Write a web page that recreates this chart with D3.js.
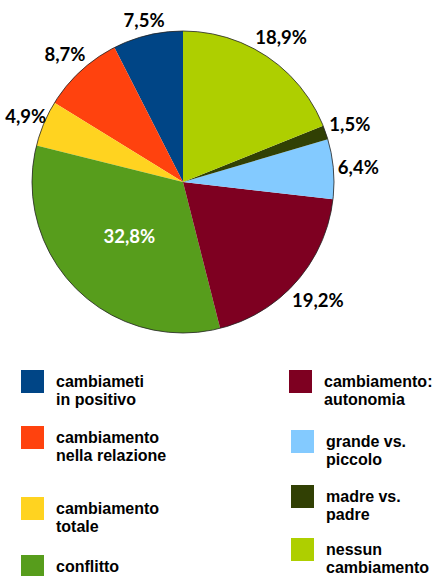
<!DOCTYPE html>
<html><head><meta charset="utf-8">
<script src="https://cdn.jsdelivr.net/npm/d3@7"></script>
<style>
html,body{margin:0;padding:0;background:#fff;}
svg text{font-family:Lato,"Open Sans",sans-serif;font-weight:700;fill:#000;}
svg text.leg{font-family:"Liberation Sans",Arial,sans-serif;}
</style></head>
<body><svg id="c" width="435" height="576"></svg>
<script>
const categories = ["cambiameti in positivo","cambiamento nella relazione","cambiamento totale","conflitto","cambiamento: autonomia","grande vs. piccolo","madre vs. padre","nessun cambiamento"];
const legendLines = [["cambiameti","in positivo"],["cambiamento","nella relazione"],["cambiamento","totale"],["conflitto"],["cambiamento:","autonomia"],["grande vs.","piccolo"],["madre vs.","padre"],["nessun","cambiamento"]];
const values = [7.5, 8.7, 4.9, 32.8, 19.2, 6.4, 1.5, 18.9];
const labels = ["7,5%","8,7%","4,9%","32,8%","19,2%","6,4%","1,5%","18,9%"];
const colors = ["#004586","#ff420e","#ffd320","#579d1c","#7e0021","#83caff","#314004","#aecf00"];

const svg = d3.select("#c");
const cx = 183, cy = 182, r = 151;
const color = d3.scaleOrdinal().domain(categories).range(colors);
const pie = d3.pie().sort(null).value(d => d.v).startAngle(0).endAngle(-2*Math.PI);
const data = categories.map((c,i)=>({c, v: values[i], l: labels[i]}));
const arcs = pie(data);
const arc = d3.arc().innerRadius(0).outerRadius(r);
const g = svg.append("g").attr("transform",`translate(${cx},${cy})`);
g.selectAll("path.s").data(arcs).join("path").attr("class","s")
  .attr("d", arc).attr("fill", d => color(d.data.c));
g.append("circle").attr("r", r).attr("fill","none").attr("stroke","#222").attr("stroke-width",0.8);

// labels
arcs.forEach(d => {
  const a = (d.startAngle + d.endAngle)/2;
  const t = g.append("text").text(d.data.l).attr("font-size",18.5)
    .attr("text-anchor","middle").attr("dominant-baseline","central");
  if (d.data.v > 25) {
    t.attr("fill","#fff").style("fill","#fff");
    const rr = 76;
    t.attr("x", Math.sin(a)*rr).attr("y", -Math.cos(a)*rr);
  } else {
    const w = t.node().getComputedTextLength();
    const h = 14;
    const gap = Math.sin(a) < 0 && Math.cos(a) < 0.5 ? -2 : 4;
    const dist = r + gap + (w/2)*Math.abs(Math.sin(a)) + (h/2)*Math.abs(Math.cos(a));
    t.attr("x", Math.sin(a)*dist).attr("y", -Math.cos(a)*dist);
  }
});

// legend
const leftTops = [370, 426, 497, 555];
const rightTops = [370, 430, 485, 538];
categories.forEach((c,i) => {
  const col = i < 4 ? 0 : 1;
  const row = i % 4;
  const y = col === 0 ? leftTops[row] : rightTops[row];
  const lg = svg.append("g");
  lg.append("rect").attr("x", col===0 ? 21 : (i===4 ? 289 : 291)).attr("y", y).attr("width",23).attr("height",23).attr("fill", color(c));
  const tx = col === 0 ? 56 : (i===4 ? 324 : 326);
  legendLines[i].forEach((ln, k) => {
    lg.append("text").attr("class","leg").attr("x", tx).attr("y", y + 16.5 + k*18.5).attr("font-size",16).text(ln);
  });
});
</script></body></html>
